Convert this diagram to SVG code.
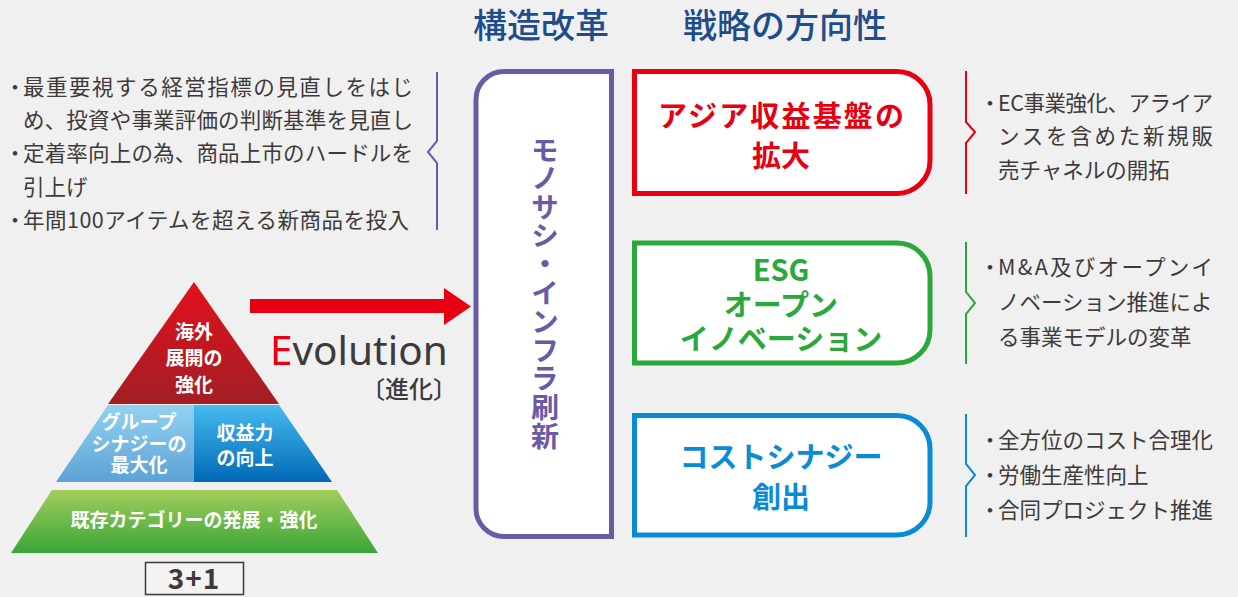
<svg xmlns="http://www.w3.org/2000/svg" width="1238" height="597" viewBox="0 0 1238 597">
<defs>
<style>
.body{font-family:"Noto Sans CJK JP",sans-serif;font-size:21.5px;fill:#3e3a39}
.title{font-family:"Noto Sans CJK JP",sans-serif;font-size:34px;fill:#1d4d8a;font-weight:500}
.lbl{font-family:"Noto Sans CJK JP",sans-serif;font-size:29px;font-weight:700;text-anchor:middle}
.pw{font-family:"Noto Sans CJK JP",sans-serif;font-size:19px;font-weight:700;fill:#ffffff;text-anchor:middle}
.brace{fill:none;stroke-width:2}
.box{fill:#ffffff;stroke-width:5}
</style>
<linearGradient id="gRed" x1="0" y1="0" x2="0" y2="1"><stop offset="0" stop-color="#e3101c"/><stop offset="1" stop-color="#a11f25"/></linearGradient>
<linearGradient id="gLb" x1="0" y1="0" x2="0" y2="1"><stop offset="0" stop-color="#92d2f1"/><stop offset="1" stop-color="#5ca2d6"/></linearGradient>
<linearGradient id="gDb" x1="0" y1="0" x2="0" y2="1"><stop offset="0" stop-color="#46bbee"/><stop offset="1" stop-color="#0068b7"/></linearGradient>
<linearGradient id="gGr" x1="0" y1="0" x2="0" y2="1"><stop offset="0" stop-color="#a2cd5c"/><stop offset="1" stop-color="#3aa537"/></linearGradient>
</defs>
<rect width="1238" height="597" fill="#f0f0f0"/>

<g id="titles">
<text class="title" x="473" y="38">構造改革</text>
<text class="title" x="683" y="38">戦略の方向性</text>
</g>

<g id="left-notes">
<text class="body" x="15" y="94.5" text-anchor="middle">・</text>
<text class="body" x="23" y="94.5" textLength="390" lengthAdjust="spacing">最重要視する経営指標の見直しをはじ</text>
<text class="body" x="23" y="127.5" textLength="390" lengthAdjust="spacing">め、投資や事業評価の判断基準を見直し</text>
<text class="body" x="15" y="161" text-anchor="middle">・</text>
<text class="body" x="23" y="161" textLength="390" lengthAdjust="spacing">定着率向上の為、商品上市のハードルを</text>
<text class="body" x="23" y="194.5">引上げ</text>
<text class="body" x="15" y="227.5" text-anchor="middle">・</text>
<text class="body" x="23" y="227.5" textLength="386" lengthAdjust="spacing">年間100アイテムを超える新商品を投入</text>
<path class="brace" stroke="#6a5aa5" d="M437,72 V141 L428,152 L437,163 V230"/>
</g>

<g id="pyramid">
<polygon points="194,282 279,404 108,404" fill="url(#gRed)"/>
<polygon points="108,405 194,405 194,482 56,482" fill="url(#gLb)"/>
<polygon points="194,405 279,405 332,482 194,482" fill="url(#gDb)"/>
<polygon points="52,490 337,490 378,553 11,553" fill="url(#gGr)"/>
<text class="pw" x="194" y="339" font-size="20">海外</text>
<text class="pw" x="194" y="365" font-size="20">展開の</text>
<text class="pw" x="194" y="392" font-size="20">強化</text>
<text class="pw" x="139" y="429">グループ</text>
<text class="pw" x="139" y="450.5">シナジーの</text>
<text class="pw" x="139" y="472">最大化</text>
<text class="pw" x="245" y="440" font-size="20">収益力</text>
<text class="pw" x="245" y="465" font-size="20">の向上</text>
<text class="pw" x="194" y="527" font-size="18.6">既存カテゴリーの発展・強化</text>
</g>

<g id="three-plus-one">
<rect x="145.5" y="562.5" width="98" height="32" fill="#f3f3f3" stroke="#3e3a39" stroke-width="1.5"/>
<text x="194" y="589" text-anchor="middle" font-family="Noto Sans CJK JP, sans-serif" font-size="28" font-weight="700" fill="#3e3a39" letter-spacing="1">3+1</text>
</g>

<g id="evolution">
<text x="270" y="365" font-family="Noto Sans, sans-serif" font-size="40.5" fill="#3e3a39"><tspan fill="#e60012">E</tspan>volution</text>
<text x="457" y="398" text-anchor="end" font-family="Noto Sans CJK JP, sans-serif" font-size="24" font-weight="500" fill="#3e3a39">〔進化〕</text>
</g>

<g id="connectors">
<polygon points="250,299 444,299 444,288 471,306.5 444,325 444,313 250,313" fill="#e60012"/>
</g>

<g id="structural-reform">
<path class="box" stroke="#6a5aa5" d="M611.5,71.5 V536.5 H504 A28,28 0 0 1 476,508.5 V99.5 A28,28 0 0 1 504,71.5 Z"/>
<text x="545" y="136" writing-mode="vertical-rl" font-family="Noto Sans CJK JP, sans-serif" font-size="28" font-weight="700" fill="#6a5aa5" letter-spacing="0.6">モノサシ・インフラ刷新</text>
</g>

<g id="asia">
<path class="box" stroke="#e60012" d="M634.5,71.5 H897 A33,33 0 0 1 930,104.5 V160.5 A33,33 0 0 1 897,193.5 H634.5 Z"/>
<text class="lbl" fill="#e60012" x="781" y="127" textLength="246" lengthAdjust="spacing">アジア収益基盤の</text>
<text class="lbl" fill="#e60012" x="781" y="167">拡大</text>
</g>

<g id="esg">
<path class="box" stroke="#2aa83a" d="M634.5,243 H897 A33,33 0 0 1 930,276 V330 A33,33 0 0 1 897,363 H634.5 Z"/>
<text class="lbl" fill="#2aa83a" x="781" y="281" font-size="28">ESG</text>
<text class="lbl" fill="#2aa83a" x="781" y="316" font-size="28">オープン</text>
<text class="lbl" fill="#2aa83a" x="781" y="350" font-size="28">イノベーション</text>
</g>

<g id="cost">
<path class="box" stroke="#0a8bd6" d="M634.5,415.5 H897 A33,33 0 0 1 930,448.5 V502 A33,33 0 0 1 897,535 H634.5 Z"/>
<text class="lbl" fill="#0a8bd6" x="781" y="468">コストシナジー</text>
<text class="lbl" fill="#0a8bd6" x="781" y="508">創出</text>
</g>

<g id="right-notes">
<path class="brace" stroke="#e60012" d="M966,71 V122 L975,132 L966,143 V194"/>
<path class="brace" stroke="#2aa83a" d="M966,242 V292 L975,303 L966,314 V364"/>
<path class="brace" stroke="#0a8bd6" d="M966,414 V464 L975,475 L966,486 V537"/>
<text class="body" x="990" y="111" text-anchor="middle">・</text>
<text class="body" x="998" y="111" textLength="215" lengthAdjust="spacing">EC事業強化、アライア</text>
<text class="body" x="998" y="144" textLength="215" lengthAdjust="spacing">ンスを含めた新規販</text>
<text class="body" x="998" y="178">売チャネルの開拓</text>
<text class="body" x="990" y="275" text-anchor="middle">・</text>
<text class="body" x="998" y="275" textLength="215" lengthAdjust="spacing">M&amp;A及びオープンイ</text>
<text class="body" x="998" y="310">ノベーション推進によ</text>
<text class="body" x="998" y="345">る事業モデルの変革</text>
<text class="body" x="990" y="448" text-anchor="middle">・</text>
<text class="body" x="998" y="448">全方位のコスト合理化</text>
<text class="body" x="990" y="483" text-anchor="middle">・</text>
<text class="body" x="998" y="483">労働生産性向上</text>
<text class="body" x="990" y="518" text-anchor="middle">・</text>
<text class="body" x="998" y="518">合同プロジェクト推進</text>
</g>
</svg>
